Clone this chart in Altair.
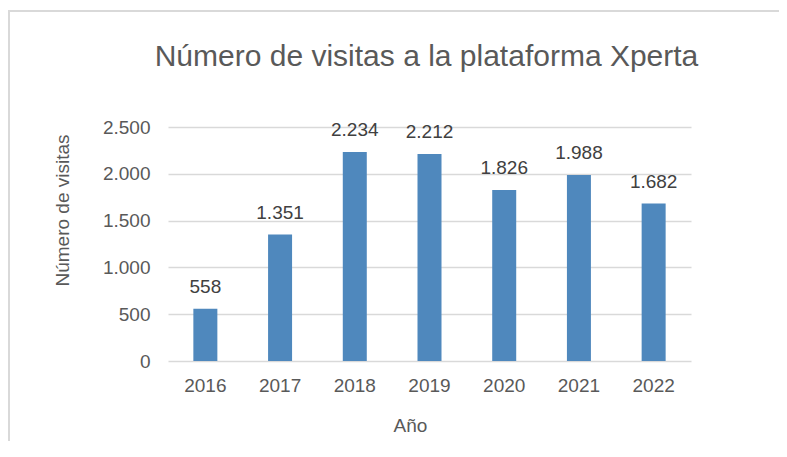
import altair as alt
import pandas as pd

years = ["2016", "2017", "2018", "2019", "2020", "2021", "2022"]
visits = [558, 1351, 2234, 2212, 1826, 1988, 1682]
y_ticks = [0, 500, 1000, 1500, 2000, 2500]
title_text = "Número de visitas a la plataforma Xperta"

df = pd.DataFrame({"Año": years, "Visitas": visits})

FONT = "Liberation Sans"
TXT = "#595959"
GRID = "#d9d9d9"
BAR = "#4f88bd"

xenc = alt.X(
    "Año:N",
    sort=years,
    scale=alt.Scale(paddingInner=0, paddingOuter=0),
    axis=alt.Axis(
        title="Año", labelAngle=0, ticks=False, tickSize=0, domain=False,
        labelPadding=15, labelFontSize=19, labelColor=TXT, labelFont=FONT,
        titleFontSize=19, titleColor=TXT, titleFont=FONT, titleFontWeight="normal",
        titleX=242, titleY=64, titleAlign="center", titleBaseline="middle",
    ),
)
yenc = alt.Y(
    "Visitas:Q",
    scale=alt.Scale(domain=[0, 2500], nice=False),
    axis=alt.Axis(
        title="Número de visitas", values=y_ticks, ticks=False, tickSize=0, domain=False,
        labelPadding=18, labelFontSize=19, labelColor=TXT, labelFont=FONT,
        labelExpr="replace(format(datum.value, ','), ',', '.')",
        gridColor=GRID, gridWidth=1.3,
        titleFontSize=19, titleColor=TXT, titleFont=FONT, titleFontWeight="normal",
        titleX=-106, titleY=83, titleAngle=-90, titleAlign="center", titleBaseline="middle",
    ),
)

bars = alt.Chart(df).mark_bar(size=24, color=BAR).encode(x=xenc, y=yenc)

labels = (
    alt.Chart(df)
    .transform_calculate(lab="replace(format(datum.Visitas, ','), ',', '.')")
    .mark_text(baseline="alphabetic", dy=-16, fontSize=19, font=FONT, color="#404040")
    .encode(x=alt.X("Año:N", sort=years), y="Visitas:Q", text="lab:N")
)

one = pd.DataFrame({"a": [0]})
top_border = alt.Chart(one).mark_rule(color=GRID, strokeWidth=2).encode(
    x=alt.value(-160), x2=alt.value(620), y=alt.value(-116)
)
left_border = alt.Chart(one).mark_rule(color=GRID, strokeWidth=2).encode(
    x=alt.value(-159), y=alt.value(-116), y2=alt.value(330)
)
title_mark = alt.Chart(one).mark_text(
    fontSize=30, font=FONT, color=TXT, align="center", baseline="middle"
).encode(x=alt.value(258.5), y=alt.value(-70), text=alt.value(title_text))

chart = (
    alt.layer(bars, labels, top_border, left_border, title_mark)
    .properties(
        width=523,
        height=234,
        autosize=alt.AutoSizeParams(type="none"),
        padding={"left": 160, "top": 119, "right": 88, "bottom": 80},
    )
    .configure_view(stroke=None)
    .configure_axisX(grid=False)
)

chart.save("out.html", embed_options={"renderer": "svg", "actions": False})
